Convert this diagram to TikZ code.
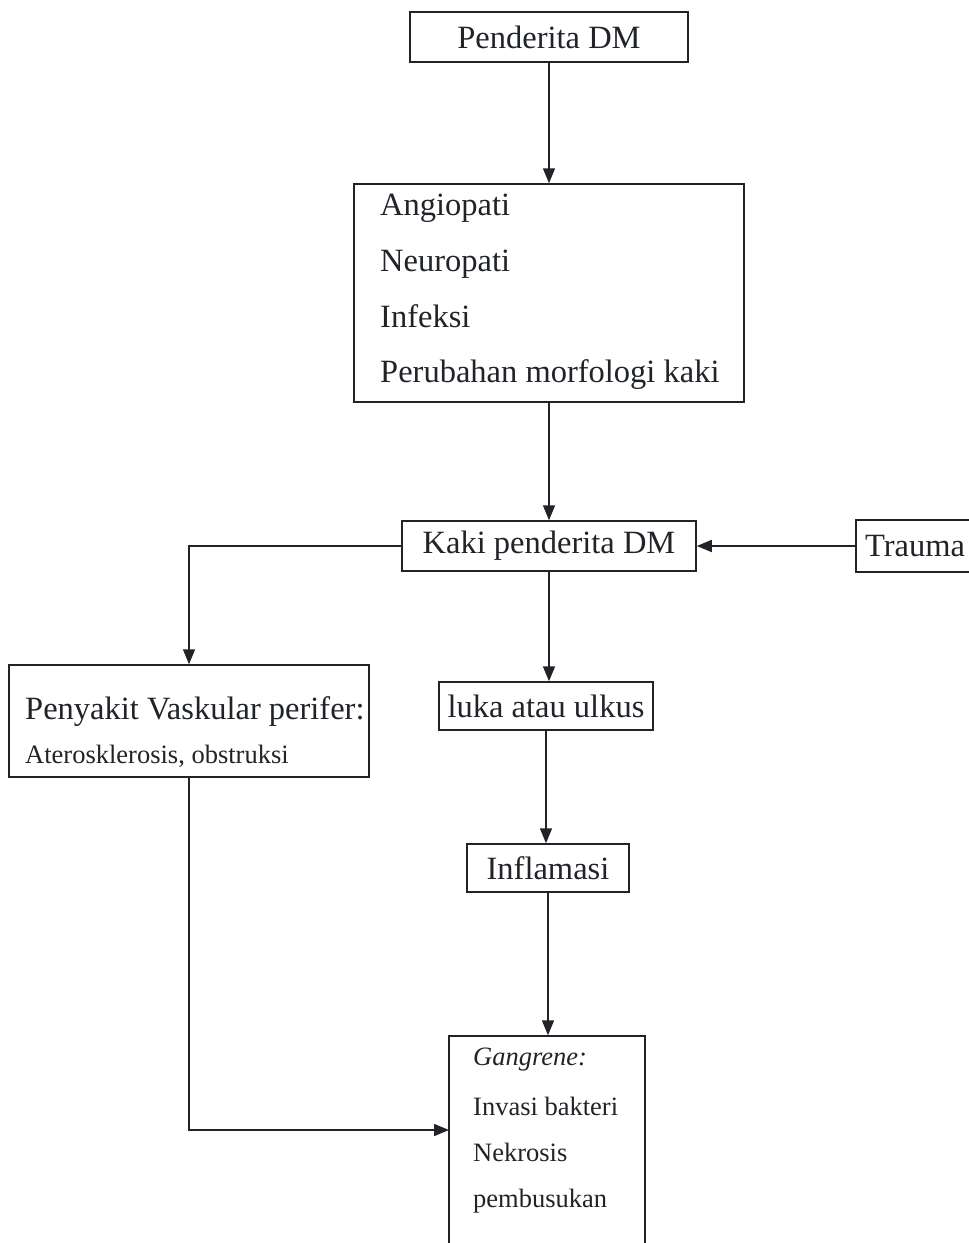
\documentclass[tikz,border=0pt]{standalone}
\usepackage{fontspec}
\setmainfont{Liberation Serif}
\usetikzlibrary{arrows.meta}
\definecolor{ink}{HTML}{202428}
\begin{document}
\begin{tikzpicture}[x=1pt,y=-1pt,
  box/.style={draw=ink, line width=1.5pt, inner sep=0pt, text=ink},
  big/.style={font=\fontsize{32.5}{38}\selectfont, text=ink},
  small/.style={font=\fontsize{26.5}{31}\selectfont, text=ink},
  conn/.style={draw=ink, line width=1.6pt, -{Triangle[length=15pt,width=12pt]}}]
\useasboundingbox (0,0) rectangle (969,1243);
\clip (0,0) rectangle (969,1243);

\node[box, big, minimum width=278pt, minimum height=50pt] (pdm) at (549,37) {Penderita DM};

\node[box, minimum width=390pt, minimum height=218pt] (sym) at (549,293) {};
\node[big, anchor=base west, inner sep=0pt] (t1) at (380,215) {Angiopati};
\node[big, anchor=base west, inner sep=0pt] (t2) at (380,271) {Neuropati};
\node[big, anchor=base west, inner sep=0pt] (t3) at (380,327) {Infeksi};
\node[big, anchor=base west, inner sep=0pt] (t4) at (380,382) {Perubahan morfologi kaki};

\node[box, big, minimum width=294pt, minimum height=50pt] (kaki) at (549,546) {Kaki penderita DM};
\node[box, big, minimum width=118pt, minimum height=52pt] (trauma) at (915,546) {Trauma};

\node[box, minimum width=360pt, minimum height=112pt] (peny) at (189,721) {};
\node[big, anchor=base west, inner sep=0pt] (p1) at (25,719) {Penyakit Vaskular perifer:};
\node[small, anchor=base west, inner sep=0pt] (p2) at (25,763) {Aterosklerosis, obstruksi};

\node[box, big, minimum width=214pt, minimum height=48pt] (luka) at (546,706) {luka atau ulkus};
\node[box, big, minimum width=162pt, minimum height=48pt] (infl) at (548,868) {Inflamasi};

\node[box, minimum width=196pt, minimum height=224pt] (gang) at (547,1148) {};
\node[small, anchor=base west, inner sep=0pt] (g1) at (473,1065) {\itshape Gangrene:};
\node[small, anchor=base west, inner sep=0pt] (g2) at (473,1115) {Invasi bakteri};
\node[small, anchor=base west, inner sep=0pt] (g3) at (473,1161) {Nekrosis};
\node[small, anchor=base west, inner sep=0pt] (g4) at (473,1207) {pembusukan};

\coordinate (gin) at (449,1130);

\draw[conn] (pdm.south) -- (pdm.south |- sym.north);
\draw[conn] (sym.south) -- (sym.south |- kaki.north);
\draw[conn] (trauma.west) -- (trauma.west -| kaki.east);
\draw[conn] (kaki.west) -| (peny.north);
\draw[conn] (kaki.south) -- (kaki.south |- luka.north);
\draw[conn] (luka.south) -- (luka.south |- infl.north);
\draw[conn] (infl.south) -- (infl.south |- gang.north);
\draw[conn] (peny.south) |- (gin);
\end{tikzpicture}
\end{document}
